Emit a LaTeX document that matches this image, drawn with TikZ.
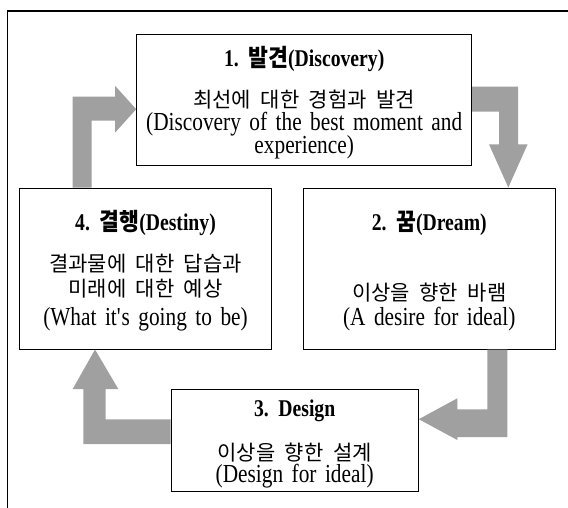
\documentclass[tikz,border=0pt]{standalone}
\usepackage{fontspec}
\setmainfont{Liberation Serif}[FakeStretch=0.82]
\newfontfamily\kr{Noto Sans CJK KR}
\newfontfamily\krt{Noto Sans CJK KR}[FakeStretch=0.9]
\definecolor{arrowgray}{RGB}{160,160,160}
\begin{document}
\begin{tikzpicture}[x=1pt,y=-1pt,
  box/.style={draw=black, line width=1pt, inner sep=0pt},
  blockarrow/.style={fill=arrowgray, draw=none},
  ttl/.style={font={\fontsize{24}{28}\selectfont\bfseries\spaceskip 8pt\relax}, inner sep=0pt, anchor=base},
  txt/.style={font={\fontsize{26}{28}\selectfont\spaceskip 8.5pt\relax}, inner sep=0pt, anchor=base},
  ktxt/.style={font={\kr\fontsize{21}{26}\selectfont\spaceskip 9.5pt\relax}, inner sep=0pt, anchor=base}]
\useasboundingbox (0,0) rectangle (568,507);
% outer frame (continues beyond the right and bottom edges)
\draw[line width=1.5pt] (7.3,530) -- (7.3,11) -- (590,11);
% boxes
\node[box, minimum width=335pt, minimum height=130.7pt] (b1) at (304.2,99.65) {};
\node[box, minimum width=252.4pt, minimum height=161pt] (b4) at (145.5,268.5) {};
\node[box, minimum width=252.4pt, minimum height=161pt] (b2) at (429.25,268.5) {};
\node[box, minimum width=247.3pt, minimum height=101.7pt] (b3) at (294.65,440.15) {};
% texts box 1
\node[ttl] (t1) at (304.2,66) {1. {\krt 발견}(Discovery)};
\node[ktxt] (k1) at (304.2,107.5) {최선에 대한 경험과 발견};
\node[txt] (e1a) at (304.2,130) {(Discovery of the best moment and};
\node[txt] (e1b) at (304.2,153.5) {experience)};
% texts box 4
\node[ttl] (t4) at (145.5,230.3) {4. {\krt 결행}(Destiny)};
\node[ktxt] (k4a) at (145.5,271) {결과물에 대한 답습과};
\node[ktxt] (k4b) at (145.5,296.3) {미래에 대한 예상};
\node[txt] (e4) at (145.5,325.5) {(What it\textquotesingle s going to be)};
% texts box 2
\node[ttl] (t2) at (429.25,230.3) {2. {\krt 꿈}(Dream)};
\node[ktxt] (k2) at (429.25,300.3) {이상을 향한 바램};
\node[txt] (e2) at (429.25,325.5) {(A desire for ideal)};
% texts box 3
\node[ttl] (t3) at (294.65,416) {3. Design};
\node[ktxt] (k3) at (294.65,460) {이상을 향한 설계};
\node[txt] (e3) at (294.65,482.5) {(Design for ideal)};
% block arrows
% 4 -> 1
\fill[blockarrow] (b4.north -| 72.7,0) -- (72.7,96.7) -- (115,96.7) -- (115,85.7)
  -- (b1.west |- 0,109.2) -- (115,132.7) -- (115,120.7) -- (91.7,120.7)
  -- (b4.north -| 91.7,0) -- cycle;
% 1 -> 2
\fill[blockarrow] (b1.east |- 0,86.7) -- (518,86.7) -- (518,144.3) -- (527.6,144.3)
  -- (b2.north -| 508.3,0) -- (489,144.3) -- (499,144.3) -- (499,111.7)
  -- (b1.east |- 0,111.7) -- cycle;
% 2 -> 3
\fill[blockarrow] (b2.south -| 487.3,0) -- (487.3,409.3) -- (457.3,409.3) -- (457.3,398.3)
  -- (b3.east |- 0,419.2) -- (457.3,440) -- (457.3,437) -- (507.3,437)
  -- (b2.south -| 507.3,0) -- cycle;
% 3 -> 4
\fill[blockarrow] (b3.west |- 0,419.3) -- (105.7,419.3) -- (105.7,389) -- (118.3,389)
  -- (b4.south -| 95,0) -- (72.7,389) -- (83.3,389) -- (83.3,444)
  -- (b3.west |- 0,444) -- cycle;
\end{tikzpicture}
\end{document}
